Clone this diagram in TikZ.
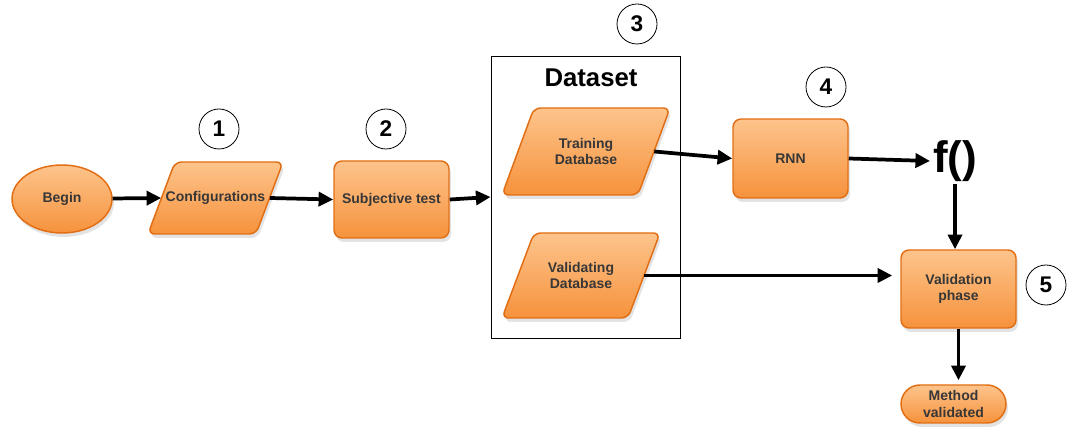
\documentclass[tikz,border=0pt]{standalone}
\usepackage{fontspec}
\setmainfont{Liberation Sans}
\usetikzlibrary{shapes.geometric,shapes.misc,shadows,arrows.meta}
\definecolor{otop}{RGB}{253,196,140}
\definecolor{obot}{RGB}{246,146,60}
\definecolor{oborder}{RGB}{226,110,20}
\definecolor{txt}{RGB}{55,55,55}
\tikzset{
  orangefill/.style={draw=oborder, line width=1.1pt, top color=otop, bottom color=obot,
    drop shadow={opacity=0.22, shadow xshift=1.5pt, shadow yshift=-3pt}},
  labeltext/.style={text=txt, font=\bfseries\fontsize{10.5}{12.5}\selectfont, align=center, inner sep=0pt},
  orange/.style={orangefill, labeltext},
  procbox/.style={orange, rectangle, rounded corners=6pt},
  numcirc/.style={circle, draw=black, line width=0.6pt, fill=white, minimum size=30pt,
    inner sep=0pt, font=\bfseries\fontsize{17}{17}\selectfont},
  arr/.style={line width=2.8pt, -{Triangle[length=11pt,width=10.5pt]}}
}
% #1 name, #2 cx, #3 cy, #4 total width, #5 height, #6 slant offset, #7 text (pixel units)
\newcommand\paranode[7]{%
  \path[orangefill, rounded corners=5pt]
    ({#2-#4/2},{#3+#5/2}) -- ({#2-#4/2+#6},{#3-#5/2}) -- ({#2+#4/2},{#3-#5/2})
    -- ({#2+#4/2-#6},{#3+#5/2}) -- cycle;
  \node[labeltext, minimum width={(#4-#6)*0.75pt}, minimum height={#5*0.75pt}] (#1) at (#2,#3) {#7};
}
\begin{document}
\begin{tikzpicture}[x=0.75pt,y=-0.75pt]
\useasboundingbox (0,0) rectangle (1071,427);
% dataset frame
\node[draw=black, line width=0.6pt, minimum width=141.75pt, minimum height=211.5pt, inner sep=0pt] (dataset) at (585.5,197) {};
\node[font=\bfseries\fontsize{19.3}{20}\selectfont] (dstitle) at (591,78) {Dataset};
% nodes
\node[orange, ellipse, minimum width=75pt, minimum height=51pt] (begin) at (62,199) {Begin};
\paranode{config}{215.5}{198}{135}{72}{27}{Configurations}
\node[procbox, minimum width=86.25pt, minimum height=57.75pt] (subj) at (391.5,199.5) {Subjective test};
\paranode{train}{586}{151.5}{168}{87}{32}{Training\\Database}
\paranode{valid}{581}{275.5}{158}{85}{32}{Validating\\Database}
\node[procbox, minimum width=86.25pt, minimum height=59.25pt] (rnn) at (790.5,158.5) {RNN};
\node[font=\bfseries\fontsize{33}{33}\selectfont, inner sep=2pt] (f) at (955,161) {f()};
\node[procbox, minimum width=86.25pt, minimum height=58.5pt] (val) at (958.5,289) {Validation\\phase};
\node[orange, rounded rectangle, minimum width=78.75pt, minimum height=28.5pt] (method) at (953.5,404) {Method\\validated};
% numbers
\node[numcirc] (n1) at (219,129) {1};
\node[numcirc] (n2) at (386,129) {2};
\node[numcirc] (n3) at (637,24) {3};
\node[numcirc] (n4) at (826,87) {4};
\node[numcirc] (n5) at (1046,285) {5};
% connectors
\draw[arr] (begin) -- (config.west);
\draw[arr] (config.east) -- (subj.west);
\draw[arr] (subj.east) -- (dataset.west);
\draw[arr] (train.east) -- (rnn.west);
\draw[arr] (rnn.east) -- (f.west);
\draw[arr] (f.south) -- (f.south |- val.north);
\draw[arr, shorten >=6pt] (valid.east) -- (valid.east -| val.west);
\draw[arr, shorten >=3pt] (val.south) -- (val.south |- method.north);
\end{tikzpicture}
\end{document}
